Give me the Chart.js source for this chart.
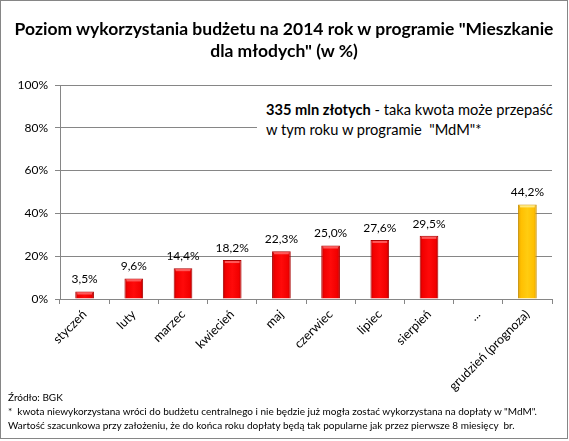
<!DOCTYPE html>
<html><head><meta charset="utf-8">
<script src="https://cdn.jsdelivr.net/npm/chart.js@4/dist/chart.umd.min.js"></script>
<style>
html,body{margin:0;padding:0;background:#fff;}
#wrap{position:relative;width:569px;height:441px;overflow:hidden;font-family:Lato,'Open Sans',sans-serif;color:#000;}
#frame{position:absolute;left:0;top:0;width:566px;height:437px;border:1px solid #868686;pointer-events:none;}
canvas{position:absolute;left:0;top:0;}
.t{position:absolute;white-space:nowrap;line-height:1;}
.title{font-weight:bold;font-size:17px;}
#note{position:absolute;left:257px;top:94px;width:305px;height:66px;background:#fff;}
.note{font-size:13px;}
.foot{font-size:10px;}
</style></head>
<body>
<div id="wrap">
<canvas id="c" width="569" height="441"></canvas>
<div id="note"></div>
<span class="t title" id="t1">Poziom wykorzystania budżetu na 2014 rok w programie "Mieszkanie</span>
<span class="t title" id="t2">dla młodych" (w %)</span>
<span class="t note" id="n1"><b>335 mln złotych</b> - taka kwota może przepaść</span>
<span class="t note" id="n2">w tym roku w programie &nbsp;"MdM"*</span>
<span class="t foot" id="f1">Źródło: BGK</span>
<span class="t foot" id="f2">* &nbsp;kwota niewykorzystana wróci do budżetu centralnego i nie będzie już mogła zostać wykorzystana na dopłaty w "MdM".</span>
<span class="t foot" id="f3">Wartość szacunkowa przy założeniu, że do końca roku dopłaty będą tak popularne jak przez pierwsze 8 miesięcy &nbsp;br.</span>
<div id="frame"></div>
</div>
<script>
// ---- data ----
const categories = ['styczeń','luty','marzec','kwiecień','maj','czerwiec','lipiec','sierpień','...','grudzień (prognoza)'];
const values = [3.5, 9.6, 14.4, 18.2, 22.3, 25.0, 27.6, 29.5, null, 44.2];
const yTicks = [0, 20, 40, 60, 80, 100];
const forecastIndex = categories.length - 1;

function fmt(v){ return v.toFixed(1).replace('.', ',') + '%'; }

// ---- text layout (fit widths) ----
function place(el, x, cy){ const r = el.getBoundingClientRect(); el.style.left = x + 'px'; el.style.top = (cy - r.height/2) + 'px'; }
function fitSize(el, w){ const fs = parseFloat(getComputedStyle(el).fontSize); const cur = el.getBoundingClientRect().width; return fs * w / cur; }
function layoutText(){
  const t1 = document.getElementById('t1'), t2 = document.getElementById('t2');
  const ts = fitSize(t1, 539); t1.style.fontSize = ts + 'px'; t2.style.fontSize = ts + 'px';
  place(t1, 284 - t1.getBoundingClientRect().width/2, 29);
  place(t2, 284 - t2.getBoundingClientRect().width/2, 51);
  const n1 = document.getElementById('n1'), n2 = document.getElementById('n2');
  const ns = fitSize(n1, 287); n1.style.fontSize = ns + 'px'; n2.style.fontSize = ns + 'px';
  place(n1, 266, 110); place(n2, 266, 130);
  const f1 = document.getElementById('f1'), f2 = document.getElementById('f2'), f3 = document.getElementById('f3');
  const fs = fitSize(f2, 529); [f1,f2,f3].forEach(e => e.style.fontSize = fs + 'px');
  place(f1, 8, 397); place(f2, 8, 411); place(f3, 8, 425);
}
layoutText();

// ---- bar styles ----
function barFill(c){
  const chart = c.chart, xs = chart.scales && chart.scales.x;
  const gold = c.dataIndex === forecastIndex;
  const base = gold ? '#FFC400' : '#FF0000';
  if (!xs || !xs.width || c.type !== 'data') return base;
  const cx = xs.getPixelForValue(c.dataIndex);
  const w = xs.width / categories.length * 0.38;
  const g = chart.ctx.createLinearGradient(cx - w/2, 0, cx + w/2, 0);
  if (gold){
    g.addColorStop(0, '#D99A00'); g.addColorStop(0.15, '#FFBF00'); g.addColorStop(0.5, '#FFCC10');
    g.addColorStop(0.85, '#FFBF00'); g.addColorStop(1, '#D99A00');
  } else {
    g.addColorStop(0, '#B80000'); g.addColorStop(0.15, '#F20000'); g.addColorStop(0.5, '#FF0A0A');
    g.addColorStop(0.85, '#F20000'); g.addColorStop(1, '#B80000');
  }
  return g;
}
function barBorder(c){ return c.dataIndex === forecastIndex ? '#C89000' : '#A80000'; }

const barDecor = {
  id: 'barDecor',
  afterDatasetsDraw(chart){
    const ctx = chart.ctx, meta = chart.getDatasetMeta(0);
    ctx.save();
    meta.data.forEach((bar, i) => {
      if (values[i] == null) return;
      const w = bar.width;
      ctx.fillStyle = i === forecastIndex ? 'rgba(255,240,150,0.85)' : 'rgba(255,110,110,0.8)';
      ctx.fillRect(bar.x - w/2 + 2, bar.y + 1, w - 4, 2);
    });
    ctx.font = '12px Lato';
    ctx.fillStyle = '#000';
    ctx.textAlign = 'center';
    ctx.textBaseline = 'bottom';
    meta.data.forEach((bar, i) => {
      const v = values[i];
      if (v == null) return;
      ctx.fillText(fmt(v), bar.x, bar.y - 6);
    });
    ctx.restore();
  }
};

const chart = new Chart(document.getElementById('c'), {
  type: 'bar',
  data: {
    labels: categories,
    datasets: [{
      data: values,
      backgroundColor: barFill,
      borderColor: barBorder,
      borderWidth: 1,
      barPercentage: 0.38,
      categoryPercentage: 1
    }]
  },
  options: {
    responsive: false,
    animation: false,
    layout: { padding: { left: 0, right: 17, top: 85, bottom: 42 } },
    plugins: { legend: { display: false }, tooltip: { enabled: false }, title: { display: false } },
    scales: {
      x: {
        grid: { display: true, drawOnChartArea: false, drawTicks: true, tickLength: 5, color: '#868686', offset: true },
        border: { display: true, color: '#868686' },
        ticks: { minRotation: 45, maxRotation: 45, autoSkip: false, padding: 3, color: '#000', font: { family: 'Lato', size: 12.5 } },
        afterFit(s){ s.height = 100; }
      },
      y: {
        min: 0, max: 100,
        afterBuildTicks(s){ s.ticks = yTicks.map(v => ({ value: v })); },
        grid: { color: '#868686', tickLength: 5 },
        border: { color: '#868686' },
        ticks: { padding: 7, color: '#000', font: { family: 'Lato', size: 12 }, callback: v => v + '%' },
        afterFit(s){ s.width = 60; }
      }
    }
  },
  plugins: [barDecor]
});
chart.update();
</script>
</body></html>
